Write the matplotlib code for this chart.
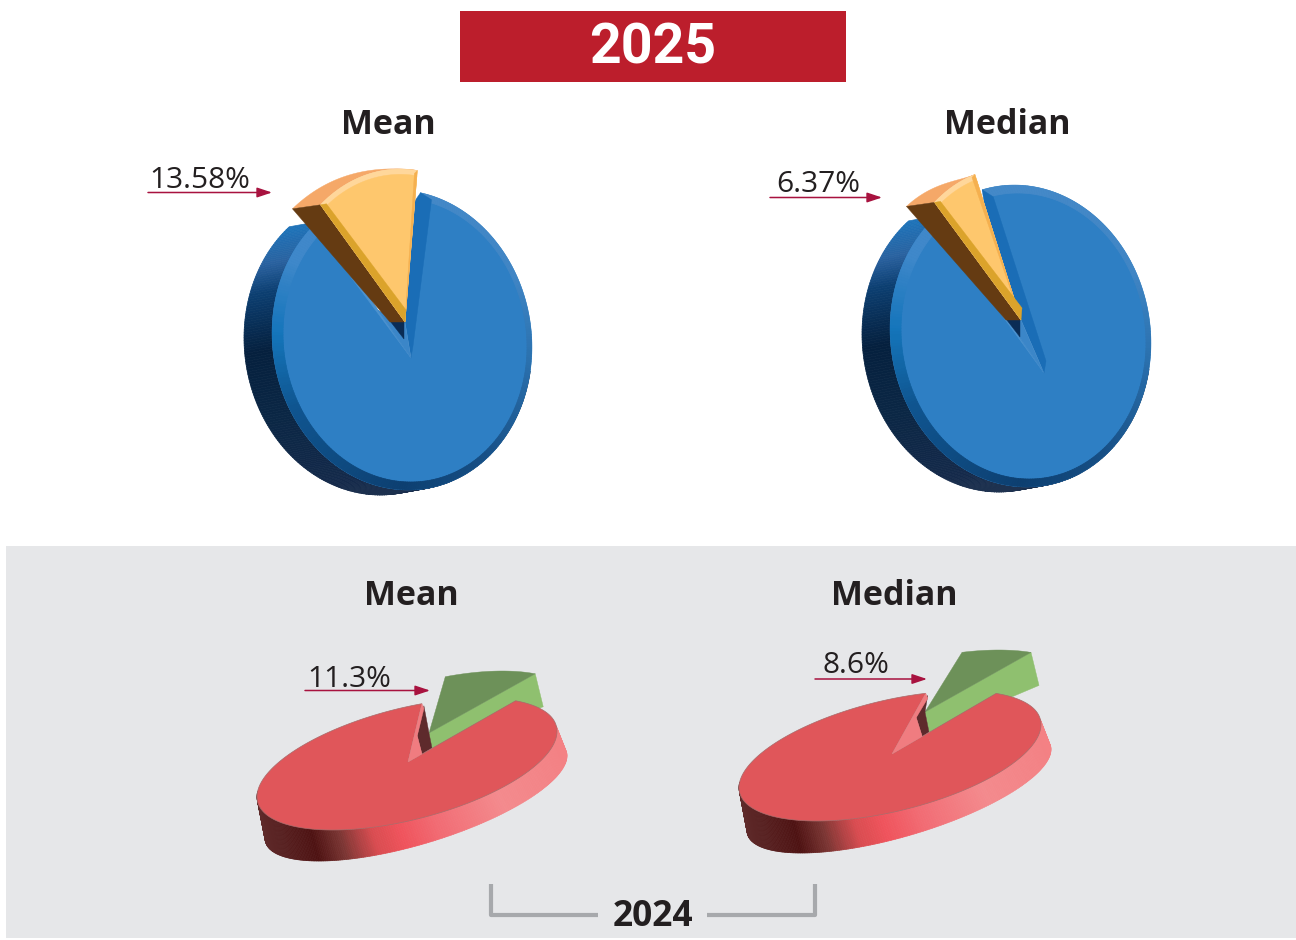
import numpy as np
import matplotlib
matplotlib.use("Agg")
from matplotlib import pyplot as plt
from matplotlib.collections import PolyCollection
from matplotlib.colors import LinearSegmentedColormap
from matplotlib.patches import Polygon, Rectangle

pie_titles = ["Mean", "Median"]
share_2025 = [13.58, 6.37]
share_2024 = [11.3, 8.6]
labels_2025 = ["13.58%", "6.37%"]
labels_2024 = ["11.3%", "8.6%"]

# ellipse = (cx, cy, ax, ay, skew in degrees)
blue_layout = [
    dict(face=(402, 340, 130, 150, 2.7), inner=(405, 340, 122, 142, 2.7), start=-40.7,
         apex=(411, 358), piece=(400, 317, 122, 148, 0), piece_apex=(405, 322), depth=(-28, 5)),
    dict(face=(1020.5, 336, 130.5, 151, 2.7), inner=(1023.5, 336, 122.5, 143, 2.7), start=-40,
         apex=(1044, 373), piece=(1009, 315, 116, 147, 0), piece_apex=(1021, 320), depth=(-28, 5)),
]
red_layout = [
    dict(face=(407, 764, 150, 66, -29.7), back=(416, 797, 151, 64, -40), start=5.7,
         apex=(408, 762), piece=(431, 737, 144, 66, -29.7), piece_apex=(429, 733),
         drop=(3, 15), mid_frac=0.45, mid_shift=3, low_frac=0.13),
    dict(face=(890, 756, 151, 65, -29), back=(899, 790, 152, 63, -40), start=13.7,
         apex=(892, 754), piece=(927, 715, 148, 65, -29), piece_apex=(925, 712),
         drop=(4, 20), mid_frac=0.6, mid_shift=4, low_frac=0.29),
]

title_pos = [(388, 134), (1007, 134), (411, 605), (894, 605)]
label_pos = [(149, 188), (776, 192), (307, 687), (822, 673)]
arrow_pos = [(148, 272, 192.5), (770, 882, 197.5), (305, 430, 690.5), (815, 927, 679)]

side_blue = LinearSegmentedColormap.from_list("side_blue", [
    (0, "#1e72b8"), (.126, "#2a62a0"), (.237, "#0c3f72"), (.46, "#05203e"),
    (.71, "#0b2745"), (.95, "#14294a"), (1, "#1f3350")])
bevel_blue = LinearSegmentedColormap.from_list("bevel_blue", [
    (0, "#4589c8"), (60 / 360, "#4186c5"), (90 / 360, "#2d74b2"), (140 / 360, "#174f85"),
    (180 / 360, "#0d3f70"), (240 / 360, "#0f5590"), (270 / 360, "#1475bb"),
    (300 / 360, "#3f88ca"), (1, "#4589c8")])
side_red = LinearSegmentedColormap.from_list("side_red", [
    (0, "#5e2a2a"), (.18, "#4e1212"), (.27, "#7a3533"), (.38, "#d94c50"), (.47, "#f0535c"),
    (.6, "#f26d75"), (.8, "#f48a8d"), (1, "#f48184")])


def rim(ell, deg):
    cx, cy, ax_, ay, skew = ell
    t = np.radians(deg)
    return np.column_stack([cx + ax_ * np.sin(t), cy - ay * np.cos(t + np.radians(skew))])


def shift(p, dx, dy):
    return (p[0] + dx, p[1] + dy)


def poly(ax, pts, color, z, **kw):
    patch = Polygon(pts, closed=True, facecolor=color, edgecolor=kw.pop("edge", color),
                    linewidth=kw.pop("lw", 0.3), zorder=z, **kw)
    ax.add_patch(patch)
    return patch


def quads(ax, outer, inner, colors, z):
    verts = [[outer[i], outer[i + 1], inner[i + 1], inner[i]] for i in range(len(outer) - 1)]
    pc = PolyCollection(verts, facecolors=colors, edgecolors=colors, linewidths=0.5, zorder=z)
    ax.add_collection(pc)
    return pc


def blue_pie(ax, value, lay):
    t0 = lay["start"]
    t1 = t0 + value * 3.6
    face, apex, piece = lay["face"], np.array(lay["apex"]), lay["piece"]
    pa = np.array(lay["piece_apex"])
    dx, dy = lay["depth"]
    body_t = np.linspace(t1, t0 + 360, 300)
    body = rim(face, body_t)
    left, right = rim(face, t0)[0], rim(face, t1)[0]

    # extruded side, runs from the cut down round the bottom
    side_t = np.linspace(t0, t0 - 220, 220)
    side = rim(face, side_t)
    back = side + [dx, dy]
    cols = side_blue(np.clip((side[:-1, 1] - (left[1] + 3)) / 269, 0, 1))
    quads(ax, side, back, cols, 2)

    # top face with its bevel
    outline = poly(ax, np.vstack([body, [apex]]), "#2e7fc4", 3)
    band = quads(ax, body, rim(lay["inner"], body_t), bevel_blue((body_t[:-1] % 360) / 360), 4)
    band.set_clip_path(outline)
    poly(ax, [left, apex, shift(left, 0, 10)], "#4c92cf", 5)

    arc_t = np.linspace(t0, t1, 60)
    arc = rim(piece, arc_t)
    a0, a1 = arc[0], arc[-1]

    # inner wall behind the piece, closes the gap down to the centre
    poly(ax, [right, shift(right, 11, 7), shift(apex, 2, -12), apex, pa, pa + (a1 - pa) * 0.8], "#1a6db6", 5)
    poly(ax, [apex + (left - apex) * 0.35, apex, pa], "#3b86c8", 5)
    poly(ax, [shift(pa, -15, -1), shift(pa, -1, -1), shift(pa, -1, 17)], "#0a2c55", 6)

    # pulled out piece
    f = np.linspace(0, 1, 60)[:, None]
    crust = arc + np.hstack([-28 * (1 - f) ** 1.5, 4 * (1 - f) - 30 * f * (1 - f) ** 2])
    poly(ax, np.vstack([arc, crust[::-1]]), "#f5a868", 7)
    poly(ax, [shift(a0, -28, 4), a0, pa, shift(pa, -15, 0)], "#653b12", 7)
    poly(ax, np.vstack([arc, [pa]]), "#ffd79b", 8)
    poly(ax, np.vstack([pa + (arc - pa) * 0.965, [pa]]), "#fec76d", 9)
    poly(ax, [a1, shift(a1, -3, 3), pa], "#f5b04f", 10)
    poly(ax, [a0, shift(a0, 6, -1), shift(pa, 1, -12), pa], "#dba32b", 10)


def red_pie(ax, value, lay):
    t0 = lay["start"]
    t1 = t0 + value * 3.6
    face, apex, piece = lay["face"], np.array(lay["apex"]), lay["piece"]
    pa = np.array(lay["piece_apex"])
    left, right = rim(face, t0)[0], rim(face, t1)[0]
    dx, dy = lay["drop"]

    # pulled out piece sits behind the body
    arc = rim(piece, np.linspace(t0, t1, 40))
    a1 = arc[-1]
    poly(ax, [pa, a1, shift(a1, 8, 33), shift(pa, dx, dy)], "#8fc06f", 2)
    poly(ax, np.vstack([arc, [pa]]), "#6d9159", 3)

    # cut wall then side band
    mid = apex + (left - apex) * lay["mid_frac"] + (lay["mid_shift"], 0)
    low = apex + (right - apex) * lay["low_frac"]
    poly(ax, [shift(left, 2, 2), pa, shift(pa, dx, dy), low, mid], "#5e2a2c", 4)

    side_t = np.linspace(85, 275, 220)
    top, bottom = rim(face, side_t), rim(lay["back"], side_t)
    lo, hi = top[:, 0].min(), top[:, 0].max()
    quads(ax, top, bottom, side_red((top[:-1, 0] - lo) / (hi - lo)), 5)

    body = rim(face, np.linspace(t1, t0 + 360, 300))
    poly(ax, np.vstack([body, [apex]]), "#e0565a", 6, edge="#a86a6a", lw=0.5)
    poly(ax, [apex, left, shift(left, 2, 5), mid, low], "#f07c80", 7)


fig = plt.figure(figsize=(12.96, 9.4), dpi=100)
ax = fig.add_axes([0, 0, 1, 1])
ax.set_xlim(0, 1296)
ax.set_ylim(940, 0)
ax.axis("off")

ax.add_patch(Rectangle((6, 546), 1290, 392, facecolor="#e6e7e9", edgecolor="none", zorder=0))
ax.add_patch(Rectangle((460, 11), 386, 71, facecolor="#bc1e2c", edgecolor="none", zorder=1))
ax.text(653, 64, "2025", color="white", family="Roboto", weight="bold", fontsize=40, ha="center", va="baseline")

for value, lay in zip(share_2025, blue_layout):
    blue_pie(ax, value, lay)
for value, lay in zip(share_2024, red_layout):
    red_pie(ax, value, lay)

for name, (x, y) in zip(pie_titles * 2, title_pos):
    ax.text(x, y, name, color="#231f20", family="Open Sans", weight="bold", fontsize=24.5,
            ha="center", va="baseline", zorder=20)

for text, (x, y) in zip(labels_2025 + labels_2024, label_pos):
    ax.text(x, y, text, color="#231f20", family="Open Sans", fontsize=21.5, ha="left", va="baseline", zorder=20)

for x0, x1, y in arrow_pos:
    ax.annotate("", xy=(x1, y), xytext=(x0, y), zorder=20,
                arrowprops=dict(arrowstyle="-|>,head_length=0.6,head_width=0.2", color="#a8123f",
                                lw=1.1, shrinkA=0, shrinkB=0, mutation_scale=15))

# bracket under the 2024 pies
ax.plot([491, 491, 598], [884, 915, 915], color="#a7a9ac", lw=3, solid_capstyle="butt", zorder=2)
ax.plot([707, 815, 815], [915, 915, 884], color="#a7a9ac", lw=3, solid_capstyle="butt", zorder=2)
ax.text(653, 926, "2024", color="#231f20", family="Open Sans", weight="bold", fontsize=25.5,
        ha="center", va="baseline", zorder=20)

fig.savefig("out.png", dpi=100)
